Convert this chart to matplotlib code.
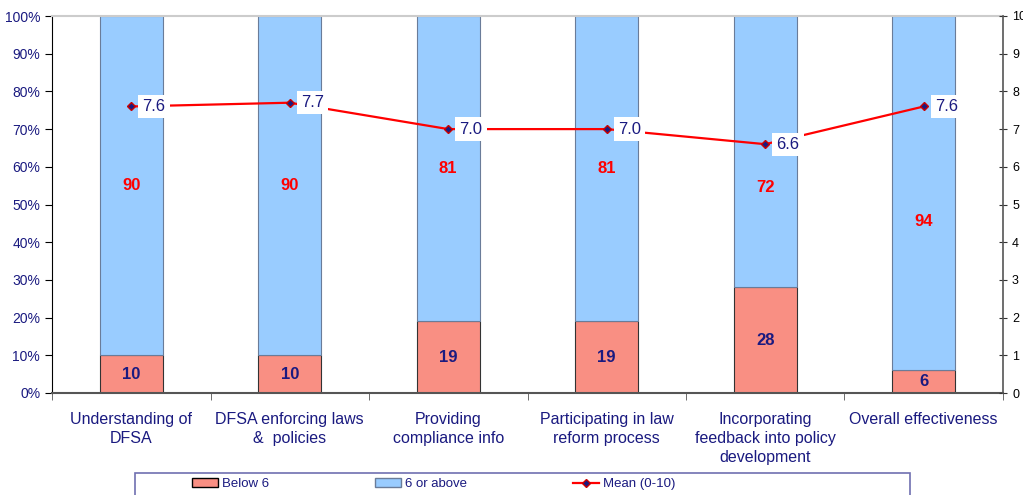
import matplotlib
matplotlib.use("Agg")
import matplotlib.pyplot as plt
from matplotlib.ticker import PercentFormatter, FixedLocator
from matplotlib.lines import Line2D
from matplotlib.patches import Patch, Rectangle
import numpy as np

plt.rcParams['font.family'] = ['Liberation Sans', 'DejaVu Sans']

# Data
categories = ['Understanding of\nDFSA', 'DFSA enforcing laws\n&  policies',
              'Providing\ncompliance info', 'Participating in law\nreform process',
              'Incorporating\nfeedback into policy\ndevelopment', 'Overall effectiveness']
below_6 = [10, 10, 19, 19, 28, 6]
six_or_above = [90, 90, 81, 81, 72, 94]
mean_score = [7.6, 7.7, 7.0, 7.0, 6.6, 7.6]

# where the "6 or above" labels sit (fraction of axis), as placed in the original
top_label_y = [0.55, 0.55, 0.595, 0.595, 0.545, 0.455]

NAVY = '#1a1a80'
RED_BAR = '#f98f83'
BLUE_BAR = '#99ccff'

fig = plt.figure(figsize=(10.23, 4.95), dpi=100)
ax = fig.add_axes([52/1023, 1 - 393/495, 951/1023, 377/495])

x = np.arange(len(categories))
b_lo = np.array(below_6) / 100
b_hi = np.array(six_or_above) / 100
ax.bar(x, b_lo, width=0.4, color=RED_BAR, edgecolor='#333333', linewidth=0.8, zorder=2)
ax.bar(x, b_hi, width=0.4, bottom=b_lo, color=BLUE_BAR, edgecolor='#6a7c99',
       linewidth=0.8, zorder=2)

for i in range(len(x)):
    ax.text(x[i], b_lo[i] / 2, str(below_6[i]), ha='center', va='center',
            color=NAVY, fontsize=12, fontweight='bold', zorder=3)
    ax.text(x[i], top_label_y[i], str(six_or_above[i]), ha='center', va='center',
            color='#ff0000', fontsize=12, fontweight='bold', zorder=3)

ax.set_xlim(-0.5, len(x) - 0.5)
ax.set_ylim(0, 1)
ax.set_yticks(np.arange(0, 1.01, 0.1))
ax.yaxis.set_major_formatter(PercentFormatter(1.0, decimals=0))
ax.tick_params(axis='y', colors='black', labelcolor=NAVY, labelsize=10, length=5,
               direction='out')
ax.set_xticks(x)
ax.set_xticklabels(categories, color=NAVY, fontsize=11.5, linespacing=1.3)
ax.tick_params(axis='x', which='major', length=0, pad=14)
ax.xaxis.set_minor_locator(FixedLocator(np.arange(-0.5, len(x), 1.0)))
ax.tick_params(axis='x', which='minor', length=5, color='#555555', direction='out')

ax.spines['top'].set_color('#cccccc')
ax.spines['top'].set_linewidth(1.5)
ax.spines['left'].set_color('black')
ax.spines['bottom'].set_color('#555555')
ax.spines['bottom'].set_linewidth(1.5)
ax.spines['right'].set_visible(False)

ax2 = ax.twinx()
ax2.plot(x, mean_score, color='#ff0000', linewidth=1.6, marker='D', markersize=4,
         markerfacecolor=NAVY, markeredgecolor='#cc0000', zorder=4)
for i in range(len(x)):
    ax2.annotate(f'{mean_score[i]:.1f}', (x[i], mean_score[i]), xytext=(8, 0),
                 textcoords='offset points', ha='left', va='center', color=NAVY,
                 fontsize=12, zorder=5,
                 bbox=dict(boxstyle='square,pad=0.25', fc='white', ec='none'))
ax2.set_ylim(0, 10)
ax2.set_yticks(range(0, 11))
ax2.tick_params(axis='y', labelsize=9, length=6, direction='inout', color='#333333')
ax2.spines['right'].set_color('#555555')
ax2.spines['right'].set_linewidth(1.2)
for s in ['top', 'left', 'bottom']:
    ax2.spines[s].set_visible(False)

# legend box at the bottom
fig.patches.append(Rectangle((135/1023, -0.02), 775/1023, 0.0444 + 0.02,
                             transform=fig.transFigure, fill=False,
                             edgecolor='#7070b0', linewidth=1.2))
handles = [Patch(facecolor=RED_BAR, edgecolor='black'),
           Patch(facecolor=BLUE_BAR, edgecolor='#6a7c99'),
           Line2D([0], [0], color='#ff0000', linewidth=1.6, marker='D', markersize=4,
                  markerfacecolor=NAVY, markeredgecolor='#cc0000')]
fig.legend(handles, ['Below 6', '6 or above', 'Mean (0-10)'], ncol=3,
           loc='center left', bbox_to_anchor=(185/1023, 0.0222), frameon=False,
           fontsize=9.5, labelcolor=NAVY, handlelength=2.0, handleheight=0.7,
           handletextpad=0.3, columnspacing=8.0, borderpad=0)

fig.savefig('out.png', dpi=100)
